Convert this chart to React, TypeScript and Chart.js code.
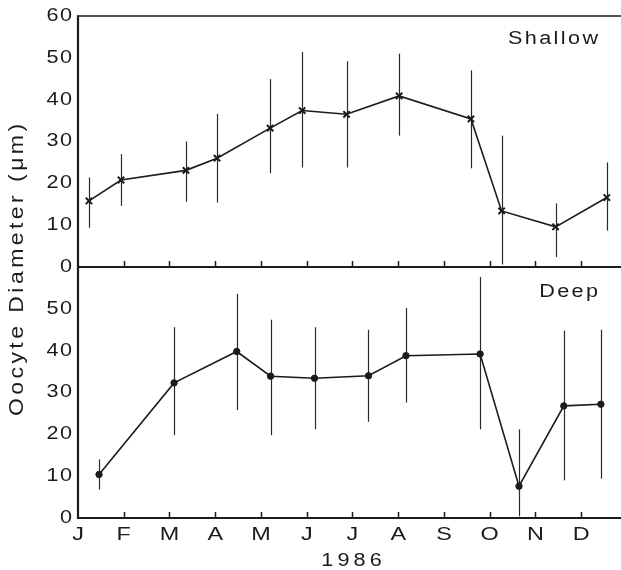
import { useEffect, useRef } from 'react';
import { Chart, registerables } from 'chart.js';
Chart.register(...registerables);

const MONTH_LABELS = ['J', 'F', 'M', 'A', 'M', 'J', 'J', 'A', 'S', 'O', 'N', 'D'];
const MONTH_TICKS = [0, 1, 2, 3, 4, 5, 6, 7, 8, 9, 10, 11];
const Y_TICKS = [0, 10, 20, 30, 40, 50, 60];
const X_MAX = 11.87;
const Y_TITLE = 'Oocyte Diameter (\u03bcm)';
const X_TITLE = '1986';
const TOP_LABEL = 'Shallow';
const BOTTOM_LABEL = 'Deep';

const shallowMonth = [0.24, 0.94, 2.36, 3.04, 4.2, 4.9, 5.87, 7.02, 8.59, 9.26, 10.44, 11.56];
const shallowMean = [15.8, 20.8, 23.1, 26.0, 33.2, 37.4, 36.5, 40.9, 35.4, 13.4, 9.6, 16.6];
const shallowLow = [9.4, 14.6, 15.6, 15.4, 22.4, 23.8, 23.8, 31.4, 23.6, 0.6, 2.4, 8.7];
const shallowHigh = [21.4, 27.0, 30.0, 36.6, 44.9, 51.4, 49.2, 51.0, 47.0, 31.4, 15.2, 25.0];

const deepMonth = [0.46, 2.1, 3.47, 4.21, 5.17, 6.35, 7.17, 8.79, 9.64, 10.62, 11.43];
const deepMean = [10.4, 32.3, 39.8, 33.9, 33.4, 34.0, 38.8, 39.2, 7.6, 26.8, 27.2];
const deepLow = [6.8, 19.8, 25.8, 19.8, 21.2, 23.0, 27.6, 21.2, 0.4, 9.0, 9.4];
const deepHigh = [14.0, 45.6, 53.6, 47.4, 45.6, 45.0, 50.2, 57.6, 21.2, 44.8, 45.0];

const INK = '#1b1b1b';
const FONT = '"Liberation Sans", Arial, sans-serif';

function drawText(
  ctx: CanvasRenderingContext2D,
  text: string,
  x: number,
  y: number,
  size: number,
  opts: { align?: 'left' | 'center' | 'right'; spacing?: number; stretch?: number; rotate?: number } = {}
) {
  const spacing = opts.spacing ?? 0;
  const stretch = opts.stretch ?? 1.2;
  ctx.save();
  ctx.translate(x, y);
  if (opts.rotate) ctx.rotate(opts.rotate);
  ctx.scale(stretch, 1);
  ctx.font = `${size}px ${FONT}`;
  (ctx as any).letterSpacing = `${spacing}px`;
  ctx.fillStyle = INK;
  ctx.textBaseline = 'middle';
  ctx.textAlign = 'left';
  const w = ctx.measureText(text).width - spacing;
  let dx = 0;
  if ((opts.align ?? 'center') === 'center') dx = -w / 2;
  else if (opts.align === 'right') dx = -w;
  ctx.fillText(text, dx, 0);
  ctx.restore();
}

const framePlugin = {
  id: 'framePlugin',
  beforeDatasetsDraw(chart: any) {
    const ctx: CanvasRenderingContext2D = chart.ctx;
    const xs = chart.scales.x;
    const yt = chart.scales.yTop;
    const yb = chart.scales.yBot;
    ctx.save();
    ctx.strokeStyle = '#2a2a2a';
    ctx.lineWidth = 1.2;
    const bars = (months: number[], lo: number[], hi: number[], ys: any) => {
      months.forEach((m, i) => {
        const x = Math.round(xs.getPixelForValue(m)) + 0.5;
        ctx.beginPath();
        ctx.moveTo(x, ys.getPixelForValue(lo[i]));
        ctx.lineTo(x, ys.getPixelForValue(hi[i]));
        ctx.stroke();
      });
    };
    bars(shallowMonth, shallowLow, shallowHigh, yt);
    bars(deepMonth, deepLow, deepHigh, yb);
    ctx.restore();
  },
  afterDraw(chart: any) {
    const ctx: CanvasRenderingContext2D = chart.ctx;
    const xs = chart.scales.x;
    const yt = chart.scales.yTop;
    const yb = chart.scales.yBot;
    const area = chart.chartArea;
    const left = area.left;
    const right = area.right;
    ctx.save();
    ctx.strokeStyle = INK;
    ctx.lineWidth = 1.5;
    ctx.beginPath();
    ctx.moveTo(left, yt.getPixelForValue(60));
    ctx.lineTo(right, yt.getPixelForValue(60));
    ctx.stroke();
    ctx.lineWidth = 2;
    [yt.getPixelForValue(0), yb.getPixelForValue(0)].forEach((y) => {
      ctx.beginPath();
      ctx.moveTo(left, y);
      ctx.lineTo(right, y);
      ctx.stroke();
    });
    ctx.lineWidth = 2.2;
    ctx.beginPath();
    ctx.moveTo(left, yt.getPixelForValue(60) - 0.75);
    ctx.lineTo(left, yb.getPixelForValue(0) + 1);
    ctx.stroke();
    ctx.lineWidth = 1.5;
    MONTH_TICKS.slice(1).forEach((m) => {
      const x = Math.round(xs.getPixelForValue(m)) + 0.5;
      [yt.getPixelForValue(0), yb.getPixelForValue(0)].forEach((y) => {
        ctx.beginPath();
        ctx.moveTo(x, y);
        ctx.lineTo(x, y - 6);
        ctx.stroke();
      });
    });
    ctx.restore();

    Y_TICKS.forEach((v) => {
      drawText(ctx, String(v), 72, yt.getPixelForValue(v), 18, { align: 'right', spacing: 1.2, stretch: 1.2 });
      if (v < 60) drawText(ctx, String(v), 72, yb.getPixelForValue(v), 18, { align: 'right', spacing: 1.2, stretch: 1.2 });
    });
    MONTH_TICKS.forEach((m) => {
      drawText(ctx, MONTH_LABELS[m], xs.getPixelForValue(m), 535, 18, { align: 'center', stretch: 1.3 });
    });
    drawText(ctx, X_TITLE, (left + right) / 2 + 2, 561, 18, { align: 'center', spacing: 3.5, stretch: 1.2 });
    drawText(ctx, Y_TITLE, 17, 270, 20, { align: 'center', spacing: 3, stretch: 1.15, rotate: -Math.PI / 2 });
    drawText(ctx, TOP_LABEL, 598, 39, 18, { align: 'right', spacing: 2, stretch: 1.2 });
    drawText(ctx, BOTTOM_LABEL, 598, 292, 18, { align: 'right', spacing: 2, stretch: 1.2 });
  },
};

export default function App() {
  const ref = useRef<HTMLCanvasElement>(null);
  useEffect(() => {
    if (!ref.current) return;
    const chart = new Chart(ref.current, {
      type: 'line',
      data: {
        datasets: [
          {
            label: TOP_LABEL,
            data: shallowMonth.map((m, i) => ({ x: m, y: shallowMean[i] })),
            yAxisID: 'yTop',
            borderColor: INK,
            backgroundColor: INK,
            borderWidth: 1.6,
            pointStyle: 'crossRot',
            pointRadius: 4.5,
            pointBorderWidth: 2,
            tension: 0,
          },
          {
            label: BOTTOM_LABEL,
            data: deepMonth.map((m, i) => ({ x: m, y: deepMean[i] })),
            yAxisID: 'yBot',
            borderColor: INK,
            backgroundColor: INK,
            borderWidth: 1.6,
            pointStyle: 'circle',
            pointRadius: 3.2,
            pointBorderWidth: 1,
            tension: 0,
          },
        ],
      },
      options: {
        animation: false,
        responsive: false,
        devicePixelRatio: 1,
        layout: { autoPadding: false, padding: { top: 16, right: 0, bottom: 0, left: 0 } },
        plugins: { legend: { display: false }, tooltip: { enabled: false } },
        scales: {
          x: {
            type: 'linear',
            position: 'bottom',
            min: 0,
            max: X_MAX,
            grid: { display: false },
            border: { display: false },
            ticks: { display: false },
            afterBuildTicks: (s: any) => {
              s.ticks = MONTH_TICKS.map((v) => ({ value: v }));
            },
            afterFit: (s: any) => {
              s.height = 52;
              s.paddingLeft = 0;
              s.paddingRight = 0;
            },
          },
          yBot: {
            type: 'linear',
            position: 'left',
            stack: 'v',
            stackWeight: 1,
            weight: 0,
            min: 0,
            max: 60,
            grid: { display: false },
            border: { display: false },
            ticks: { display: false, stepSize: 10 },
            afterFit: (s: any) => {
              s.width = 78;
              s.paddingTop = 0;
              s.paddingBottom = 0;
            },
          },
          yTop: {
            type: 'linear',
            position: 'left',
            stack: 'v',
            stackWeight: 1,
            weight: 1,
            min: 0,
            max: 60,
            grid: { display: false },
            border: { display: false },
            ticks: { display: false, stepSize: 10 },
            afterFit: (s: any) => {
              s.width = 78;
              s.paddingTop = 0;
              s.paddingBottom = 0;
            },
          },
        },
      },
      plugins: [framePlugin],
    } as any);
    return () => chart.destroy();
  }, []);
  return (
    <div style={{ position: 'absolute', left: 0, top: 0, width: 621, height: 570, background: '#fff' }}>
      <canvas ref={ref} width={621} height={570} />
    </div>
  );
}
